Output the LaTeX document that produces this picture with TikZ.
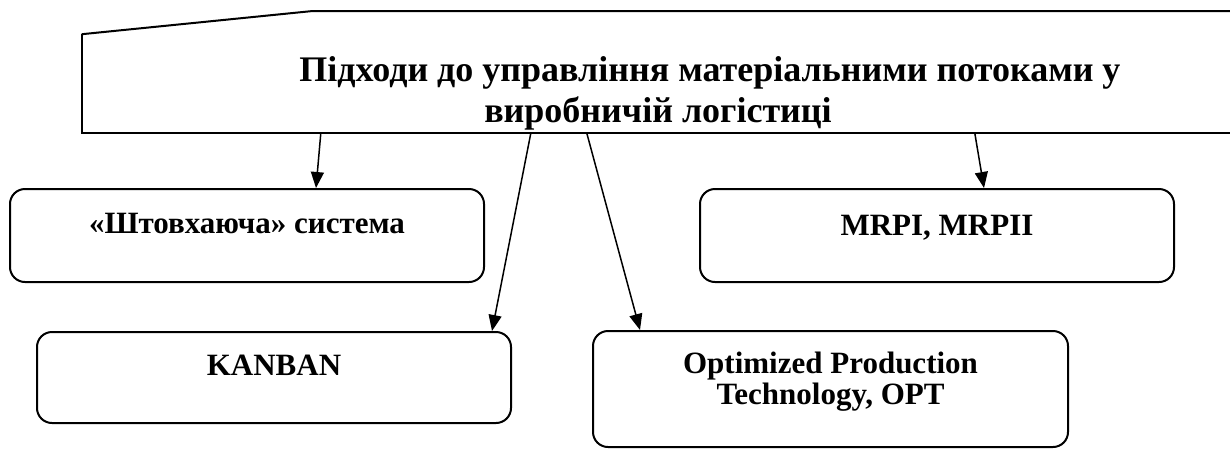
\documentclass[tikz,border=0pt]{standalone}
\usepackage{fontspec}
\setmainfont{Liberation Serif}
\usetikzlibrary{arrows.meta,calc}
\begin{document}
\begin{tikzpicture}[x=1pt,y=-1pt,
  box/.style={draw,line width=2pt,rounded corners=15pt,inner sep=0pt,minimum width=474pt},
  lbl/.style={font=\fontsize{31}{31}\selectfont\bfseries,align=center,inner sep=0pt,anchor=base},
  ttl/.style={font=\fontsize{36}{41}\selectfont\bfseries,align=center,inner sep=0pt,anchor=base},
  arr/.style={line width=1.5pt,-{Triangle[length=16pt,width=13pt]}}]
\useasboundingbox (0,0) rectangle (1230,448);
% heading shape
\node[inner sep=0pt,minimum width=1160pt,minimum height=122pt] (head) at (662,72) {};
\draw[line width=2pt,line join=miter] ($(head.south west)+(0,-99)$) -- ($(head.south west)+(229,-122)$) -- ($(head.south west)+(1170,-122)$);
\draw[line width=2pt] ($(head.south west)+(0,-99)$) -- (head.south west) -- ($(head.south west)+(1170,0)$);
\node[ttl] (title) at (710,122) {Підходи до управління матеріальними потоками у\\виробничій логістиці\hspace*{104pt}};
% boxes
\node[box,minimum height=93pt] (push) at (247,235.5) {};
\node[lbl] (pushT) at (247,233) {«Штовхаюча» система};
\node[box,minimum height=93pt] (mrp) at (937,235.5) {};
\node[lbl] (mrpT) at (937,235) {MRPI, MRPII};
\node[box,minimum height=91pt] (kan) at (274,377.5) {};
\node[lbl] (kanT) at (274,375) {KANBAN};
\node[box,minimum width=475pt,minimum height=116pt] (opt) at (830.5,389) {};
\node[lbl] (optT) at (830.5,404) {Optimized Production\\Technology, OPT};
% arrows
\draw[arr] ($(head.south west)+(239,0)$) -- ([xshift=69pt]push.north);
\draw[arr] ($(head.south west)+(449,0)$) -- ([xshift=218pt]kan.north);
\draw[arr] ($(head.south west)+(505,0)$) -- ([xshift=-190.5pt]opt.north);
\draw[arr] ($(head.south west)+(893,0)$) -- ([xshift=47pt]mrp.north);
\end{tikzpicture}
\end{document}
